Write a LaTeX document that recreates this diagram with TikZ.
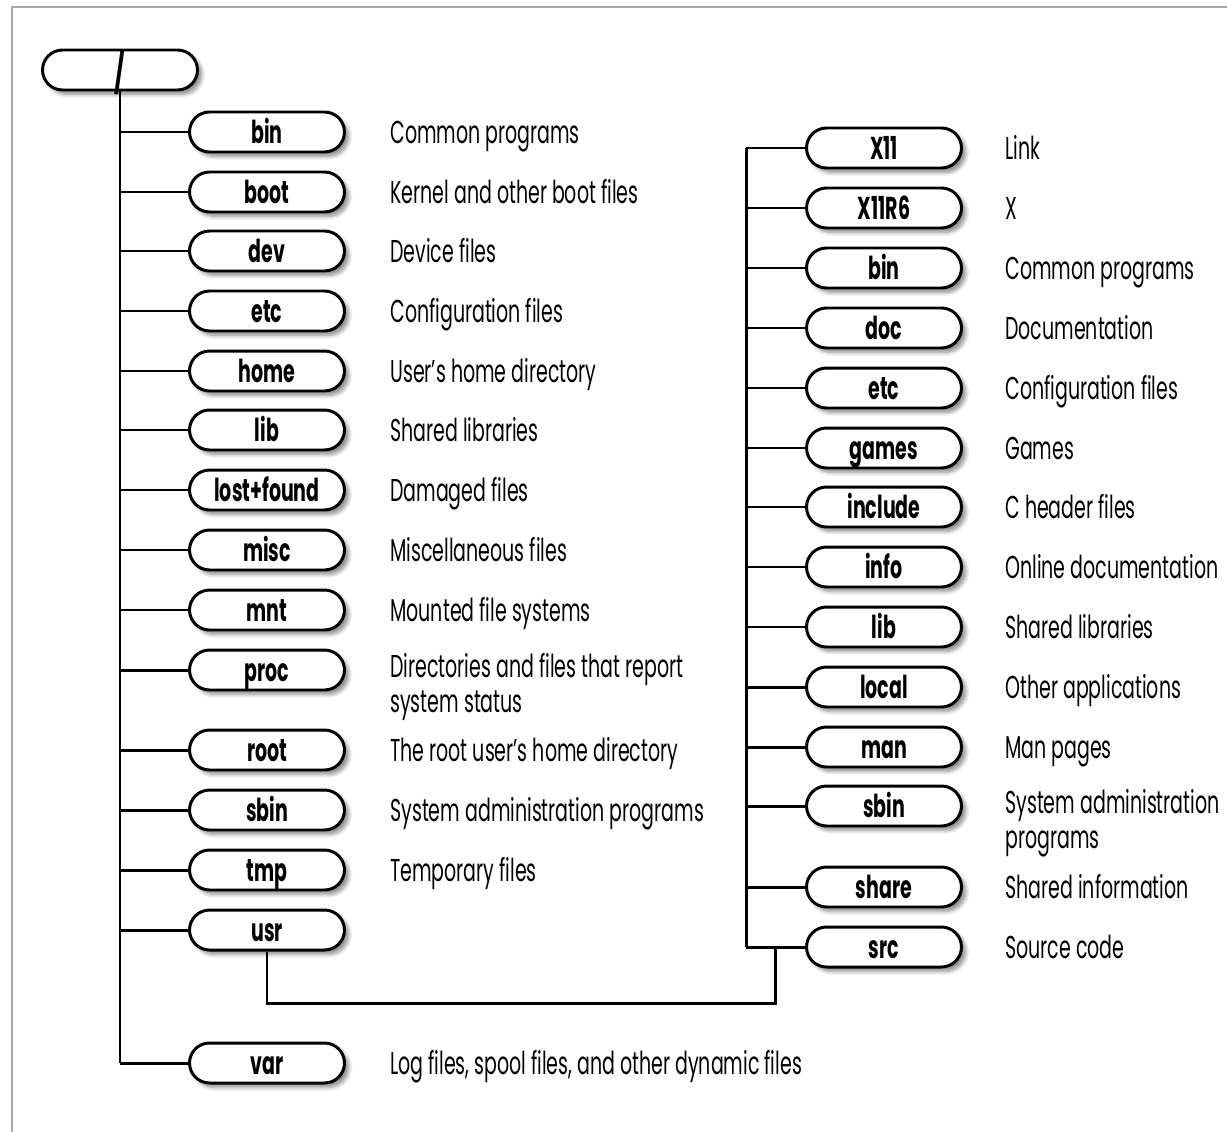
\documentclass[tikz,border=0pt]{standalone}
\usepackage{fontspec}
\setmainfont{Poppins}[FakeStretch=0.6]
\usetikzlibrary{shapes.misc, shadows.blur, positioning}

\tikzset{
  dir/.style={rounded rectangle, draw, line width=1.7pt, fill=white,
    minimum width=3.1cm, minimum height=0.8cm, inner sep=0pt,
    text height=13pt, text depth=0pt,
    font=\fontsize{18}{20}\selectfont\bfseries,
    blur shadow={shadow xshift=2.5pt, shadow yshift=-2.5pt, shadow blur steps=6, shadow opacity=45}},
  desc/.style={anchor=west, inner sep=0pt, text height=13pt, text depth=0pt,
    font=\fontsize{18}{20}\selectfont},
  desc2/.style={anchor=west, align=left, inner sep=0pt, font=\fontsize{18}{20}\selectfont},
  link/.style={line width=1.7pt}
}

\begin{document}
\begin{tikzpicture}[x=0.02cm, y=-0.02cm]
\useasboundingbox (0,0) rectangle (1227,1132);
\draw[gray!70, line width=1.5pt] (12,1132) -- (12,7) -- (1227,7);

\node[dir, text height=18pt, font=\fontsize{22}{22}\selectfont\bfseries] (root) at (120,70) {\raisebox{-1pt}{/}};

% left column
\foreach \id/\lbl/\y/\txt in {bin/bin/132/Common programs, boot/boot/192/Kernel and other boot files,
    dev/dev/251/Device files, etc/etc/311/Configuration files, home/home/371/User's home directory,
    lib/lib/430/Shared libraries, lost/lost+found/490/Damaged files, misc/misc/550/Miscellaneous files,
    mnt/mnt/610/Mounted file systems, root/root/750/The root user's home directory,
    sbin/sbin/810/System administration programs, tmp/tmp/870/Temporary files, usr/usr/930/,
    var/var/1063/{Log files, spool files, and other dynamic files}} {
  \node[dir] (l-\id) at (267,\y) {\lbl};
  \node[desc] (ld-\id) at (390,\y) {\txt};
  \draw[link] (root.south |- l-\id.west) -- (l-\id.west);
}
\node[dir] (l-proc) at (267,670) {proc};
\node[desc2] (ld-proc) at (390,687) {Directories and files that report\\system status};
\draw[link] (root.south |- l-proc.west) -- (l-proc.west);
\draw[link] (root.south) -- (root.south |- l-var.west);

% right column (usr)
\coordinate (rt) at (746,148);
\foreach \id/\y/\txt in {X11/148/Link, X11R6/208/X, bin/268/Common programs, doc/328/Documentation,
    etc/388/Configuration files, games/448/Games, include/507/C header files,
    info/567/Online documentation, lib/627/Shared libraries, local/687/Other applications,
    man/747/Man pages, share/887/Shared information, src/947/Source code} {
  \node[dir] (r-\id) at (884,\y) {\id};
  \node[desc] (rd-\id) at (1005,\y) {\txt};
  \draw[link] (rt |- r-\id.west) -- (r-\id.west);
}
\node[dir] (r-sbin) at (884,806) {sbin};
\node[desc2] (rd-sbin) at (1005,823) {System administration\\programs};
\draw[link] (rt |- r-sbin.west) -- (r-sbin.west);
\draw[link] (rt |- r-X11.west) -- (rt |- r-src.west);

\coordinate (bend) at (775,1003);
\draw[link] (l-usr.south) |- (bend) -- (bend |- r-src.west);
\end{tikzpicture}
\end{document}
